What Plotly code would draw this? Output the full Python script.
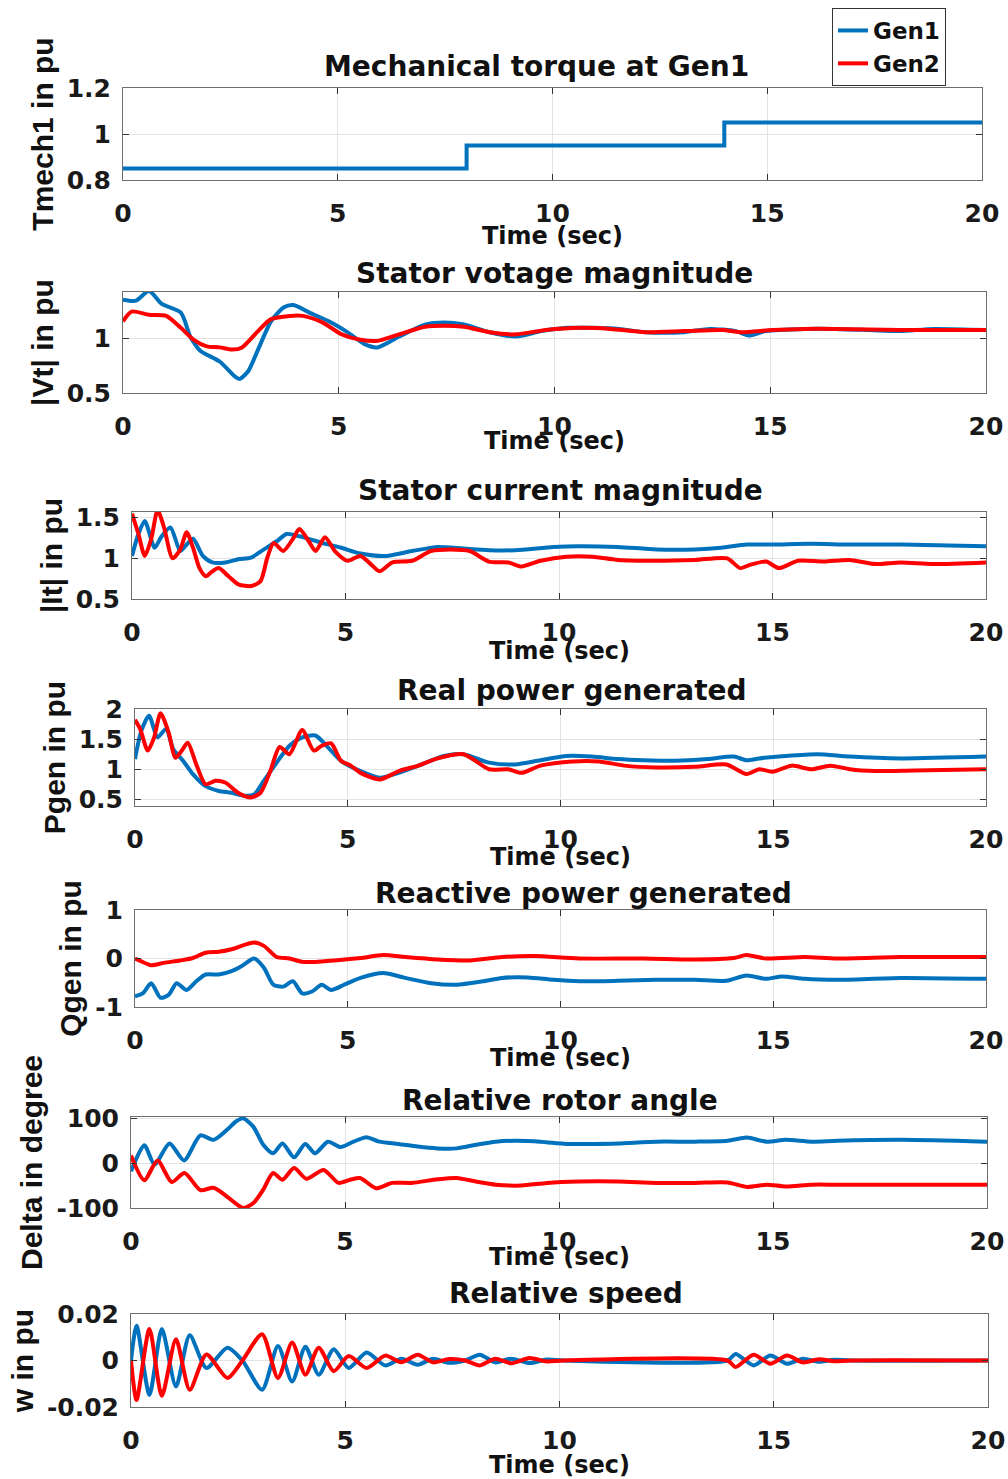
import plotly.graph_objects as go

W, H = 1008, 1479
BLUE = '#0072BD'
RED = '#FF0000'

# ---------------- data ----------------
# 1) Mechanical torque (step)
t_tm = [0, 8, 14, 20]
tmech1 = [0.85, 0.95, 1.05, 1.05]

# 2) Stator voltage magnitude
t_vt1 = [0, 0.3, 0.6, 0.9, 1.34, 1.56, 1.79, 2.24, 2.6, 2.7, 2.9, 3.13, 3.43, 3.73, 3.95, 4.32, 4.77, 5.2,
         5.6, 5.9, 6.4, 7.0, 7.45, 7.9, 8.5, 9.1, 9.7, 10.3, 10.9, 11.5, 12.1, 13.0, 13.6, 14.2, 14.5,
         14.9, 15.8, 16.5, 17.3, 18.0, 18.8, 20.0]
vt1 = [1.36, 1.35, 1.44, 1.32, 1.24, 1.02, 0.89, 0.79, 0.65, 0.63, 0.70, 0.90, 1.16, 1.29, 1.31, 1.24, 1.16,
       1.06, 0.95, 0.92, 1.02, 1.13, 1.15, 1.13, 1.06, 1.02, 1.07, 1.10, 1.10, 1.09, 1.06, 1.06, 1.09,
       1.07, 1.03, 1.07, 1.09, 1.09, 1.08, 1.07, 1.09, 1.08]
t_vt2 = [0, 0.2, 0.6, 1.0, 1.34, 1.64, 1.94, 2.24, 2.53, 2.76, 3.13, 3.43, 3.87, 4.17, 4.62, 5.07, 5.5, 5.9,
         6.4, 7.0, 7.45, 7.9, 8.5, 9.1, 9.8, 10.6, 11.3, 12.1, 13.0, 13.9, 14.3, 15.05, 15.8, 16.5, 18.0, 20.0]
vt2 = [1.16, 1.25, 1.22, 1.21, 1.10, 0.99, 0.93, 0.92, 0.90, 0.92, 1.07, 1.18, 1.21, 1.21, 1.15, 1.04, 0.99,
       0.98, 1.04, 1.11, 1.12, 1.11, 1.06, 1.04, 1.08, 1.10, 1.09, 1.06, 1.07, 1.08, 1.06, 1.08, 1.09, 1.09,
       1.08, 1.08]

# 3) Stator current magnitude
t_it1 = [0, 0.15, 0.3, 0.53, 0.68, 0.9, 1.13, 1.28, 1.43, 1.66, 1.88, 2.19, 2.49, 2.79, 3.09, 3.39, 3.62,
         3.84, 4.14, 4.45, 4.9, 5.35, 5.95, 6.56, 7.16, 7.76, 8.36, 8.97, 9.87, 10.47, 11.38, 12.28, 13.19,
         13.8, 14.4, 15.0, 15.9, 16.8, 18.0, 20.0]
it1 = [1.03, 1.30, 1.46, 1.13, 1.26, 1.38, 1.09, 1.17, 1.24, 1.03, 0.95, 0.95, 0.99, 1.01, 1.11, 1.21, 1.30,
       1.28, 1.24, 1.19, 1.13, 1.06, 1.03, 1.09, 1.14, 1.12, 1.10, 1.10, 1.14, 1.15, 1.14, 1.11, 1.11, 1.13,
       1.17, 1.17, 1.18, 1.17, 1.17, 1.15]
t_it2 = [0, 0.15, 0.3, 0.45, 0.6, 0.75, 0.95, 1.13, 1.28, 1.43, 1.58, 1.73, 1.88, 2.03, 2.26, 2.49, 2.79,
         3.01, 3.17, 3.32, 3.54, 3.77, 3.92, 4.14, 4.3, 4.52, 4.75, 5.05, 5.35, 5.65, 5.8, 6.1, 6.56, 7.0,
         7.46, 7.91, 8.36, 8.82, 9.12, 9.57, 10.17, 10.78, 11.38, 12.28, 13.19, 13.94, 14.24, 14.47, 14.85,
         15.15, 15.6, 16.2, 16.8, 17.4, 18.0, 18.76, 20.0]
it2 = [1.55, 1.30, 1.03, 1.24, 1.59, 1.38, 1.00, 1.11, 1.32, 1.13, 0.88, 0.78, 0.84, 0.88, 0.78, 0.68, 0.66,
       0.72, 1.01, 1.19, 1.09, 1.24, 1.36, 1.21, 1.09, 1.26, 1.09, 0.97, 1.03, 0.90, 0.84, 0.95, 0.97, 1.09,
       1.11, 1.09, 0.96, 0.95, 0.90, 0.97, 1.02, 1.02, 0.98, 0.97, 0.98, 1.00, 0.88, 0.92, 0.96, 0.88, 0.97,
       0.96, 0.98, 0.93, 0.95, 0.93, 0.95]

# 4) Real power generated
t_p1 = [0, 0.15, 0.33, 0.53, 0.73, 0.9, 1.13, 1.36, 1.66, 1.97, 2.27, 2.57, 2.8, 3.03, 3.33, 3.63, 3.93,
        4.24, 4.54, 4.84, 5.3, 5.75, 6.2, 6.66, 7.26, 7.72, 8.32, 8.93, 9.53, 10.14, 10.74, 11.35, 11.95,
        12.7, 13.46, 14.07, 14.37, 14.67, 15.28, 16.04, 16.8, 18.0, 20.0]
p1 = [1.17, 1.64, 1.89, 1.53, 1.67, 1.33, 1.14, 0.92, 0.72, 0.64, 0.61, 0.56, 0.58, 0.81, 1.11, 1.39, 1.53,
      1.56, 1.36, 1.14, 0.97, 0.86, 0.94, 1.06, 1.22, 1.25, 1.11, 1.08, 1.15, 1.22, 1.21, 1.17, 1.15, 1.14,
      1.17, 1.21, 1.15, 1.18, 1.22, 1.25, 1.21, 1.18, 1.21]
t_p2 = [0, 0.12, 0.3, 0.45, 0.6, 0.79, 0.95, 1.1, 1.24, 1.44, 1.66, 1.89, 2.12, 2.42, 2.72, 2.95, 3.18, 3.4,
        3.63, 3.93, 4.2, 4.39, 4.61, 4.84, 5.07, 5.3, 5.75, 6.2, 6.66, 7.11, 7.72, 8.32, 8.77, 9.08, 9.53,
        10.29, 10.9, 11.5, 12.25, 13.16, 13.9, 14.37, 14.67, 14.98, 15.43, 15.89, 16.34, 16.8, 17.4, 18.3,
        20.0]
p2 = [1.82, 1.67, 1.31, 1.53, 1.93, 1.61, 1.19, 1.31, 1.44, 1.08, 0.75, 0.81, 0.78, 0.61, 0.53, 0.61, 0.97,
      1.37, 1.25, 1.65, 1.31, 1.39, 1.43, 1.14, 1.06, 0.94, 0.83, 0.97, 1.06, 1.18, 1.25, 1.00, 1.00, 0.94,
      1.06, 1.13, 1.13, 1.06, 1.03, 1.04, 1.08, 0.92, 1.00, 0.96, 1.06, 1.00, 1.06, 1.00, 0.97, 0.98, 1.00]

# 5) Reactive power generated
t_q1 = [0, 0.18, 0.38, 0.6, 0.79, 0.98, 1.21, 1.44, 1.66, 1.97, 2.27, 2.5, 2.8, 3.03, 3.25, 3.48, 3.71,
        3.93, 4.16, 4.39, 4.61, 4.92, 5.3, 5.83, 6.35, 6.96, 7.56, 8.17, 8.63, 9.23, 9.83, 10.44, 11.35,
        12.25, 13.16, 13.9, 14.37, 14.83, 15.2, 15.74, 16.5, 18.0, 20.0]
q1 = [-0.78, -0.72, -0.51, -0.81, -0.75, -0.51, -0.65, -0.47, -0.33, -0.33, -0.26, -0.16, 0.0, -0.19, -0.54,
      -0.58, -0.47, -0.72, -0.68, -0.54, -0.65, -0.54, -0.40, -0.30, -0.40, -0.51, -0.54, -0.47, -0.40,
      -0.39, -0.44, -0.47, -0.46, -0.44, -0.44, -0.46, -0.35, -0.42, -0.37, -0.42, -0.44, -0.40, -0.42]
t_q2 = [0, 0.15, 0.38, 0.68, 1.06, 1.36, 1.66, 1.97, 2.27, 2.57, 2.8, 3.03, 3.33, 3.63, 3.93, 4.24, 4.69,
        5.3, 5.83, 6.35, 7.11, 7.87, 8.63, 9.38, 10.44, 11.95, 13.16, 14.07, 14.37, 14.83, 15.74, 16.5,
        18.0, 20.0]
q2 = [0.0, -0.06, -0.14, -0.09, -0.04, 0.01, 0.12, 0.14, 0.19, 0.28, 0.33, 0.26, 0.03, 0.0, -0.07, -0.07,
      -0.04, 0.01, 0.07, 0.03, -0.02, -0.04, 0.03, 0.05, 0.0, 0.0, -0.02, 0.01, 0.07, 0.0, 0.03, 0.0, 0.03,
      0.03]

# 6) Relative rotor angle
t_d1 = [0, 0.31, 0.55, 0.9, 1.24, 1.62, 1.93, 2.25, 2.45, 2.62, 2.86, 3.09, 3.32, 3.54, 3.81, 4.07, 4.3,
        4.6, 4.9, 5.2, 5.5, 5.8, 6.25, 6.7, 7.16, 7.61, 8.06, 8.52, 8.97, 9.57, 10.17, 10.78, 11.38, 12.28,
        13.19, 13.94, 14.39, 14.85, 15.3, 15.9, 16.5, 18.0, 20.0]
d1 = [-18, 40, -3, 44, 6, 62, 52, 75, 93, 100, 81, 41, 22, 44, 13, 43, 22, 48, 36, 48, 58, 48, 43, 37, 33,
      33, 41, 48, 50, 48, 43, 43, 44, 48, 48, 50, 57, 48, 52, 48, 50, 52, 48]
t_d2 = [0, 0.31, 0.62, 0.95, 1.25, 1.62, 1.93, 2.25, 2.45, 2.62, 2.86, 3.09, 3.32, 3.54, 3.81, 4.1, 4.5,
        4.85, 5.12, 5.35, 5.73, 6.1, 6.56, 7.16, 7.61, 8.06, 8.52, 9.12, 9.72, 10.47, 11.38, 12.28, 13.19,
        13.94, 14.39, 14.85, 15.3, 15.9, 16.5, 18.0, 20.0]
d2 = [17, -38, 6, -42, -22, -60, -55, -75, -90, -100, -89, -59, -22, -37, -11, -35, -15, -44, -37, -33, -56,
      -44, -44, -36, -33, -41, -48, -50, -44, -41, -41, -44, -44, -43, -53, -48, -52, -48, -48, -48, -48]

# 7) Relative speed
t_w1 = [0, 0.13, 0.43, 0.72, 1.05, 1.37, 1.76, 2.25, 2.6, 3.06, 3.43, 3.76, 4.07, 4.38, 4.73, 5.08, 5.5,
        5.93, 6.31, 6.69, 7.05, 7.42, 7.8, 8.14, 8.5, 8.87, 9.3, 9.7, 10.1, 13.92, 14.11, 14.53, 14.92,
        15.31, 15.68, 16.05, 16.4, 16.8, 20.0]
w1 = [0, 0.0149, -0.0148, 0.0135, -0.0112, 0.0109, -0.0032, 0.0055, 0.0, -0.0126, 0.0062, -0.0090, 0.0059,
      -0.0061, 0.0048, -0.0032, 0.0034, -0.0021, 0.0008, -0.0018, 0.0008, -0.0010, 0.0, 0.0025, -0.0008,
      0.0008, -0.0011, 0.0004, 0.0, 0.0, 0.0028, -0.0021, 0.0021, -0.0014, 0.0008, -0.0005, 0.0003, 0.0,
      0.0]
t_w2 = t_w1
w2 = [0, -0.0170, 0.0135, -0.0152, 0.0091, -0.0126, 0.0026, -0.0075, 0.0, 0.0113, -0.0075, 0.0077, -0.0061,
      0.0055, -0.0046, 0.0019, -0.0032, 0.0021, -0.0008, 0.0025, -0.0008, 0.0006, 0.0, -0.0021, 0.0008,
      -0.0012, 0.0011, -0.0004, 0.0, 0.0, -0.0028, 0.0025, -0.0014, 0.0021, -0.0008, 0.0005, -0.0003, 0.0,
      0.0]

titles = ["Mechanical torque at Gen1", "Stator votage magnitude", "Stator current magnitude",
          "Real power generated", "Reactive power generated", "Relative rotor angle", "Relative speed"]
ylabels = ["Tmech1 in pu", "|Vt| in pu", "|It| in pu", "Pgen in pu", "Qgen in pu",
           "Delta in degree", "w in pu"]
yranges = [[0.8, 1.2], [0.5, 1.43], [0.5, 1.57], [0.39, 2.0], [-1, 1], [-100, 103], [-0.02, 0.02]]
ytickvals = [[0.8, 1, 1.2], [0.5, 1], [0.5, 1, 1.5], [0.5, 1, 1.5, 2], [-1, 0, 1], [-100, 0, 100],
             [-0.02, 0, 0.02]]
yticktext = [["0.8", "1", "1.2"], ["0.5", "1"], ["0.5", "1", "1.5"], ["0.5", "1", "1.5", "2"],
             ["-1", "0", "1"], ["-100", "0", "100"], ["-0.02", "0", "0.02"]]
xticks = [0, 5, 10, 15, 20]
xlabel = "Time (sec)"

series = [
    [(t_tm, tmech1, 'Gen1', BLUE)],
    [(t_vt1, vt1, 'Gen1', BLUE), (t_vt2, vt2, 'Gen2', RED)],
    [(t_it1, it1, 'Gen1', BLUE), (t_it2, it2, 'Gen2', RED)],
    [(t_p1, p1, 'Gen1', BLUE), (t_p2, p2, 'Gen2', RED)],
    [(t_q1, q1, 'Gen1', BLUE), (t_q2, q2, 'Gen2', RED)],
    [(t_d1, d1, 'Gen1', BLUE), (t_d2, d2, 'Gen2', RED)],
    [(t_w1, w1, 'Gen1', BLUE), (t_w2, w2, 'Gen2', RED)],
]

# ---------------- layout geometry (pixels) ----------------
boxes = [  # left, right, top, bottom
    (123, 982, 88, 180),
    (123, 986, 292, 393),
    (132, 986, 512, 599),
    (135, 986, 709, 806),
    (135, 986, 910, 1007),
    (131, 987, 1117, 1208),
    (131, 988, 1314, 1407),
]
title_pos = [(536, 67), (554, 274), (560, 490), (572, 690), (583, 893), (560, 1100), (566, 1293)]
xlabel_y = [236, 441, 651, 857, 1058, 1257, 1465]

TICKFONT = dict(family="DejaVu Sans", size=25, color="#1a1a1a", weight="bold")
TITLEFONT = dict(family="DejaVu Sans", size=28, color="#111111", weight="bold")
LABELFONT = dict(family="DejaVu Sans", size=24, color="#111111", weight="bold")
YLABELFONT = dict(family="Liberation Sans", size=30, color="#111111", weight="bold")

fig = go.Figure()
layout = dict(width=W, height=H, margin=dict(l=0, r=0, t=0, b=0, pad=0, autoexpand=False),
              paper_bgcolor="white", plot_bgcolor="white", annotations=[])

def px(x):
    return x / W

def py(y):
    return 1 - y / H

for i, (box, sers) in enumerate(zip(boxes, series)):
    n = i + 1
    xa = 'x' if n == 1 else f'x{n}'
    ya = 'y' if n == 1 else f'y{n}'
    for (tt, vv, name, col) in sers:
        shape = 'hv' if i == 0 else 'spline'
        line = dict(color=col, width=4, shape=shape)
        if shape == 'spline':
            line['smoothing'] = 0.7
        fig.add_trace(go.Scatter(x=tt, y=vv, mode='lines', name=name, line=line,
                                 xaxis=xa, yaxis=ya,
                                 showlegend=(i == 1), legendgroup=name))
    l, r, t, b = box
    axcommon = dict(showline=True, linecolor="#6e6e6e", linewidth=1, mirror='ticks',
                    ticks='inside', ticklen=6, tickcolor="#333333", showgrid=True,
                    gridcolor="#e3e3e3", gridwidth=1, zeroline=False, tickfont=TICKFONT,
                    automargin=False)
    layout['xaxis' if n == 1 else f'xaxis{n}'] = dict(
        axcommon, domain=[px(l), px(r)], range=[0, 20], tickvals=xticks,
        ticktext=[str(v) for v in xticks], anchor=ya, ticklabelstandoff=11)
    layout['yaxis' if n == 1 else f'yaxis{n}'] = dict(
        axcommon, domain=[py(b), py(t)], range=yranges[i], tickvals=ytickvals[i],
        ticktext=yticktext[i], anchor=xa, ticklabelstandoff=6,
        title=dict(text=ylabels[i], font=YLABELFONT, standoff=4))
    cx, cy = title_pos[i]
    layout['annotations'].append(dict(text=titles[i], x=px(cx), y=py(cy), xref='paper', yref='paper',
                                      showarrow=False, xanchor='center', yanchor='middle',
                                      font=TITLEFONT))
    layout['annotations'].append(dict(text=xlabel, x=px((l + r) / 2), y=py(xlabel_y[i]),
                                      xref='paper', yref='paper', showarrow=False,
                                      xanchor='center', yanchor='middle', font=LABELFONT))

layout['legend'] = dict(x=px(832), y=py(8), xanchor='left', yanchor='top',
                        bordercolor="#333333", borderwidth=1, bgcolor="white",
                        font=dict(family="DejaVu Sans", size=23, color="#111111", weight="bold"),
                        tracegroupgap=0)
layout['showlegend'] = True
fig.update_layout(**layout)
fig.write_html("out.html")
